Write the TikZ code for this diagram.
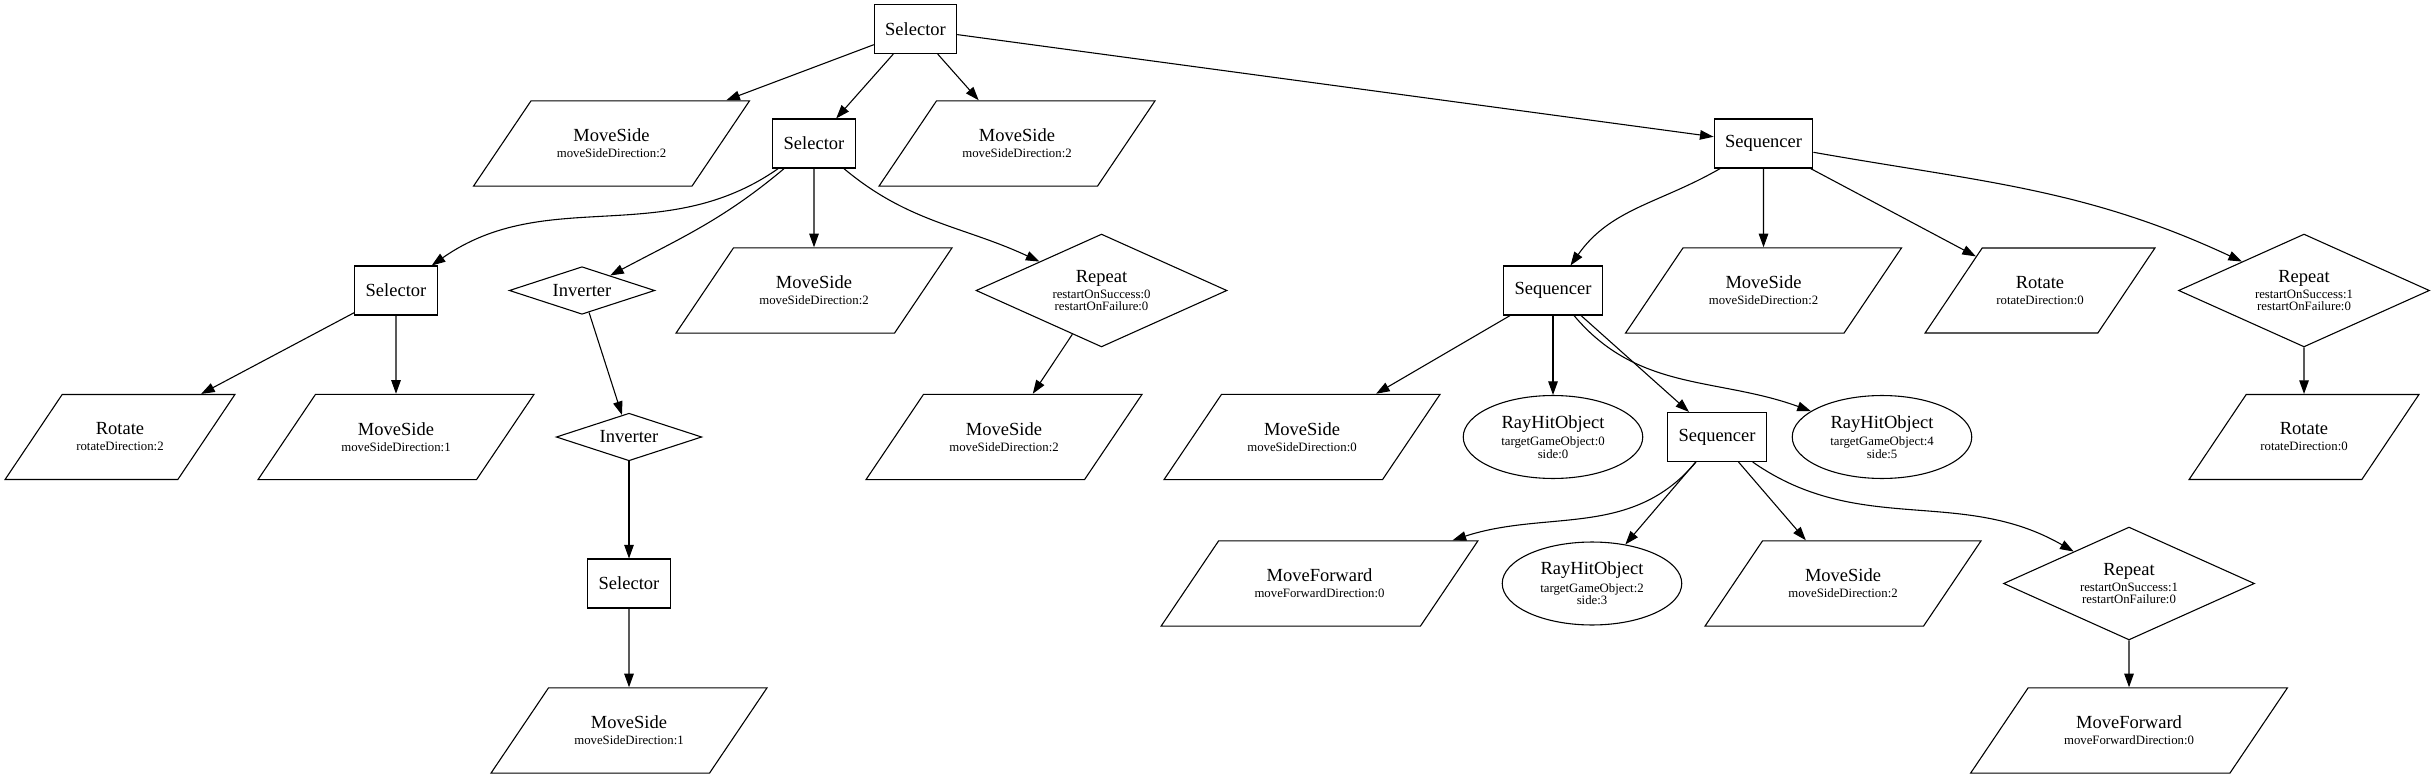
\documentclass[tikz,border=0pt]{standalone}
\usepackage{fontspec}
\setmainfont{Liberation Serif}
\usetikzlibrary{arrows.meta,shapes.geometric}
\newcommand{\Sub}{\fontsize{9.4}{9.3}\selectfont}

\begin{document}
\begin{tikzpicture}[x=0.7353pt, y=0.7353pt, line width=0.8pt,
	every node/.style={font=\fontsize{13.6}{9.3}\selectfont, align=center},
	box/.style={draw, rectangle, minimum height=36pt, inner xsep=8pt, inner ysep=0pt},
	rhomb/.style={draw, diamond, shape aspect=2.2, inner sep=0pt},
	para/.style={draw, trapezium, trapezium left angle=56, trapezium right angle=124,
		trapezium stretches body, minimum height=62.5pt, minimum width=#1,
		inner xsep=0pt, inner ysep=20.7pt},
	para/.default=203pt,
	oval/.style={draw, ellipse, minimum width=132pt, minimum height=61pt, inner sep=0pt},
	link/.style={-{Triangle[length=10pt,width=7pt]}}]
	\useasboundingbox (0,0) rectangle (2435,-779);

	% level 0 and 1
	\node[box] (root) at (915.5,-29) {Selector};
	\node[para] (ms1a) at (611.5,-143.5) {MoveSide\\[2.5pt]\Sub moveSideDirection:2};
	\node[box] (sel1) at (814,-143.5) {Selector};
	\node[para] (ms1c) at (1017,-143.5) {MoveSide\\[2.5pt]\Sub moveSideDirection:2};
	\node[box] (seq1) at (1763.5,-143.5) {Sequencer};

	% level 2
	\node[box] (sel2) at (396,-290.5) {Selector};
	\node[rhomb, minimum width=107pt, minimum height=35pt] (inv2) at (582,-290.5) {Inverter};
	\node[para] (ms2) at (814,-290.5) {MoveSide\\[2.5pt]\Sub moveSideDirection:2};
	\node[rhomb, minimum width=184.5pt, minimum height=83pt] (rep2) at (1101.5,-290.5)
		{Repeat\\[2.5pt]\Sub restartOnSuccess:0\\\Sub restartOnFailure:0};
	\node[box] (seq2) at (1553,-290.5) {Sequencer};
	\node[para] (ms2b) at (1763.5,-290.5) {MoveSide\\[2.5pt]\Sub moveSideDirection:2};
	\node[para=169pt] (rot2) at (2040,-290.5) {Rotate\\[2.5pt]\Sub rotateDirection:0};
	\node[rhomb, minimum width=184.5pt, minimum height=83pt] (rep2b) at (2304,-290.5)
		{Repeat\\[2.5pt]\Sub restartOnSuccess:1\\\Sub restartOnFailure:0};

	% level 3
	\node[para=169pt] (rot3) at (120,-437) {Rotate\\[2.5pt]\Sub rotateDirection:2};
	\node[para] (ms3) at (396,-437) {MoveSide\\[2.5pt]\Sub moveSideDirection:1};
	\node[rhomb, minimum width=107pt, minimum height=35pt] (inv3) at (629,-437) {Inverter};
	\node[para] (ms3b) at (1004,-437) {MoveSide\\[2.5pt]\Sub moveSideDirection:2};
	\node[para] (ms3c) at (1302,-437) {MoveSide\\[2.5pt]\Sub moveSideDirection:0};
	\node[oval] (ray3) at (1553,-437) {RayHitObject\\[2.5pt]\Sub targetGameObject:0\\\Sub side:0};
	\node[box] (seq3) at (1717,-437) {Sequencer};
	\node[oval] (ray3b) at (1882,-437) {RayHitObject\\[2.5pt]\Sub targetGameObject:4\\\Sub side:5};
	\node[para=169pt] (rot3b) at (2304,-437) {Rotate\\[2.5pt]\Sub rotateDirection:0};

	% level 4 and 5
	\node[box] (sel4) at (629,-583.5) {Selector};
	\node[para=233pt] (mf4) at (1319.5,-583.5) {MoveForward\\[2.5pt]\Sub moveForwardDirection:0};
	\node[oval] (ray4) at (1592,-583.5) {RayHitObject\\[2.5pt]\Sub targetGameObject:2\\\Sub side:3};
	\node[para] (ms4) at (1843,-583.5) {MoveSide\\[2.5pt]\Sub moveSideDirection:2};
	\node[rhomb, minimum width=184.5pt, minimum height=83pt] (rep4) at (2129,-583.5)
		{Repeat\\[2.5pt]\Sub restartOnSuccess:1\\\Sub restartOnFailure:0};
	\node[para] (ms5) at (629,-730.5) {MoveSide\\[2.5pt]\Sub moveSideDirection:1};
	\node[para=233pt] (mf5) at (2129,-730.5) {MoveForward\\[2.5pt]\Sub moveForwardDirection:0};

	% straight edges
	\foreach \Src/\Dst in {root/ms1a,root/sel1,root/ms1c,root/seq1,sel1/ms2,
		sel2/rot3,sel2/ms3,inv2/inv3,rep2/ms3b,inv3/sel4,sel4/ms5,
		seq1/ms2b,seq1/rot2,rep2b/rot3b,seq2/ms3c,seq2/ray3,seq2/seq3,
		seq3/ray4,seq3/ms4,rep4/mf5}
		\draw[link] (\Src) -- (\Dst);

	% curved edges
	\draw[link] (sel1) to[out=-145,in=35] (sel2);
	\draw[link] (sel1) to[out=-140,in=28] (inv2);
	\draw[link] (sel1) to[out=-40,in=155] (rep2);
	\draw[link] (seq1) to[out=-150,in=55] (seq2);
	\draw[link] (seq1) to[out=-10,in=155] (rep2b);
	\draw[link] (seq2) to[out=-50,in=160] (ray3b);
	\draw[link] (seq3) to[out=-130,in=18] (mf4);
	\draw[link] (seq3) to[out=-35,in=150] (rep4);
\end{tikzpicture}
\end{document}
